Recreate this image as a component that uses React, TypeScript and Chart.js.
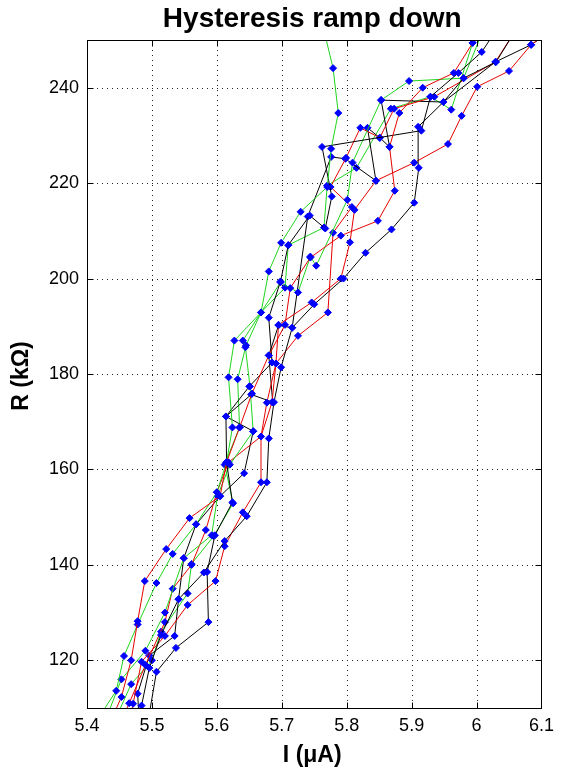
import { useEffect, useRef } from "react";
import { Chart, registerables } from "chart.js";

Chart.register(...registerables);

// Axis settings
const xTicks = [5.4, 5.5, 5.6, 5.7, 5.8, 5.9, 6, 6.1];
const yTicks = [120, 140, 160, 180, 200, 220, 240];
const xMin = 5.4;
const xMax = 6.1;
const yMin = 110;
const yMax = 250;

// Sweep traces: current I (µA) and resistance R (kΩ)
const red1I = [5.439, 5.453, 5.468, 5.478, 5.489, 5.522, 5.558, 5.605, 5.615, 5.635, 5.654, 5.68, 5.705, 5.713, 5.744, 5.791, 5.848, 5.874, 5.866, 5.881, 5.917, 5.965, 5.994, 6.01];
const red1R = [108, 112.3, 120, 128.2, 136.6, 143.3, 149.8, 154.4, 161.5, 168.8, 175.9, 183.9, 190.3, 198, 204.4, 209, 212.1, 218.4, 227.6, 234.7, 240, 243.1, 249.4, 253];

const black1I = [5.484, 5.484, 5.496, 5.514, 5.541, 5.58, 5.612, 5.646, 5.677, 5.68, 5.688, 5.699, 5.716, 5.75, 5.795, 5.829, 5.869, 5.904, 5.911, 5.91, 5.949, 5.98, 6.03, 6.06];
const black1R = [108, 110.5, 118.4, 125.3, 132.8, 138.4, 145, 150.2, 157.3, 166.5, 174.1, 181.4, 189.7, 194.6, 200, 205.4, 210.3, 215.9, 223.2, 231.8, 237, 242, 245.4, 252];

const green1I = [5.418, 5.445, 5.457, 5.478, 5.507, 5.532, 5.568, 5.6, 5.615, 5.624, 5.618, 5.627, 5.668, 5.68, 5.699, 5.729, 5.77, 5.776, 5.787, 5.779, 5.765];
const green1R = [108, 113.6, 120.9, 127.5, 136.2, 142.3, 148.5, 155.2, 161.5, 168.8, 179.3, 187, 192.9, 201.5, 207.5, 214, 219.2, 227.2, 234.7, 244.1, 252];

const red2I = [5.465, 5.471, 5.484, 5.52, 5.555, 5.598, 5.612, 5.64, 5.668, 5.668, 5.685, 5.691, 5.695, 5.746, 5.791, 5.805, 5.812, 5.845, 5.904, 5.956, 5.977, 6.001, 6.05, 6.084, 6.11];
const red2R = [107, 110.9, 119.7, 125.1, 131.6, 136.6, 143.9, 151, 157.3, 166.9, 174.1, 182.2, 190.3, 195, 200, 207.6, 214.4, 220.5, 224.3, 228.2, 234.1, 240.2, 243.5, 249, 251.5];

const black2I = [5.495, 5.507, 5.537, 5.587, 5.585, 5.597, 5.624, 5.615, 5.614, 5.65, 5.685, 5.68, 5.698, 5.71, 5.743, 5.767, 5.777, 5.762, 5.915, 5.929, 5.972, 6.008, 6.03];
const black2R = [108, 117.6, 122.6, 128, 138.5, 146.2, 153.1, 161.5, 171.1, 177.4, 182.4, 191.8, 199.4, 207, 213.2, 210.5, 217.2, 227.6, 231, 238.1, 243.1, 247.5, 252];

const green2I = [5.43, 5.453, 5.49, 5.52, 5.549, 5.592, 5.601, 5.62, 5.656, 5.651, 5.644, 5.64, 5.698, 5.725, 5.744, 5.753, 5.801, 5.809, 5.853, 5.896, 5.98, 6.01];
const green2R = [108, 116, 122, 130, 141.4, 146.2, 154.4, 161, 168, 177.4, 185.6, 187, 199.2, 197.1, 204.6, 202.7, 216.5, 224.3, 237.4, 241.4, 242, 252];

const red3I = [5.455, 5.465, 5.49, 5.52, 5.532, 5.561, 5.583, 5.6, 5.618, 5.668, 5.677, 5.691, 5.725, 5.771, 5.779, 5.808, 5.775, 5.799, 5.821, 5.851, 5.873, 5.935, 6.029, 6.06];
const red3R = [108, 111, 119, 128, 135, 140, 147.3, 155.2, 161.5, 166.9, 174, 182.2, 188, 192.9, 209.6, 215, 219.2, 225.3, 231.6, 229.5, 235.6, 238.1, 245.4, 252];

const black3I = [5.48, 5.478, 5.496, 5.535, 5.541, 5.549, 5.568, 5.605, 5.642, 5.656, 5.614, 5.653, 5.686, 5.68, 5.695, 5.716, 5.74, 5.776, 5.798, 5.845, 5.832, 5.851, 5.866, 5.853, 5.949, 6.029, 6.084, 6.1];
const black3R = [108, 113, 121, 125.1, 132.8, 141.4, 148.5, 154.4, 159.2, 168, 171.1, 175.7, 174.1, 183.9, 190.2, 189.7, 213, 225.5, 225.1, 220.5, 231.6, 229.5, 227.6, 237.4, 237, 245.4, 249, 250.5];

const green3I = [5.445, 5.468, 5.5, 5.514, 5.555, 5.561, 5.595, 5.625, 5.612, 5.635, 5.632, 5.645, 5.668, 5.705, 5.71, 5.765, 5.77, 5.815, 5.868, 5.929, 5.961, 5.994, 6.0];
const green3R = [108, 115, 120, 126, 134, 140.2, 146, 152.9, 161, 168.8, 178.9, 186, 192.9, 198.1, 207, 210.7, 219.5, 223.2, 235.6, 238.1, 235.4, 249.4, 252];

const RED = "#e60000";
const GREEN = "#1fd41f";
const BLACK = "#000000";
const MARKER = "#0000ff";

const traces: [number[], number[], string][] = [
  [red1I, red1R, RED],
  [black1I, black1R, BLACK],
  [green1I, green1R, GREEN],
  [red2I, red2R, RED],
  [black2I, black2R, BLACK],
  [green2I, green2R, GREEN],
  [red3I, red3R, RED],
  [black3I, black3R, BLACK],
  [green3I, green3R, GREEN],
];

const FONT = "'Liberation Sans', Arial, Helvetica, sans-serif";

// Dotted grid, frame with inward tick marks, and the text labels
const framePlugin = {
  id: "frame",
  beforeDraw(chart: any) {
    const { ctx, width, height } = chart;
    ctx.save();
    ctx.fillStyle = "#ffffff";
    ctx.fillRect(0, 0, width, height);
    ctx.restore();
  },
  beforeDatasetsDraw(chart: any) {
    const { ctx, chartArea: a, scales } = chart;
    ctx.save();
    ctx.strokeStyle = "#222";
    ctx.lineWidth = 1;
    ctx.setLineDash([1, 4]);
    for (const v of xTicks) {
      const px = Math.round(scales.x.getPixelForValue(v)) + 0.5;
      if (px <= a.left + 1 || px >= a.right - 1) continue;
      ctx.beginPath();
      ctx.moveTo(px, a.top);
      ctx.lineTo(px, a.bottom);
      ctx.stroke();
    }
    for (const v of yTicks) {
      const py = Math.round(scales.y.getPixelForValue(v)) + 0.5;
      if (py <= a.top + 1 || py >= a.bottom - 1) continue;
      ctx.beginPath();
      ctx.moveTo(a.left, py);
      ctx.lineTo(a.right, py);
      ctx.stroke();
    }
    ctx.restore();
  },
  afterDatasetsDraw(chart: any) {
    const { ctx, chartArea: a, scales } = chart;
    const L = Math.round(a.left) + 0.5;
    const R = Math.round(a.right) + 0.5;
    const T = Math.round(a.top) + 0.5;
    const B = Math.round(a.bottom) + 0.5;
    const tl = 6;
    ctx.save();
    ctx.strokeStyle = "#000";
    ctx.lineWidth = 1;
    ctx.setLineDash([]);
    ctx.strokeRect(L, T, R - L, B - T);
    ctx.beginPath();
    for (const v of xTicks) {
      const px = Math.round(scales.x.getPixelForValue(v)) + 0.5;
      ctx.moveTo(px, B);
      ctx.lineTo(px, B - tl);
      ctx.moveTo(px, T);
      ctx.lineTo(px, T + tl);
    }
    for (const v of yTicks) {
      const py = Math.round(scales.y.getPixelForValue(v)) + 0.5;
      ctx.moveTo(L, py);
      ctx.lineTo(L + tl, py);
      ctx.moveTo(R, py);
      ctx.lineTo(R - tl, py);
    }
    ctx.stroke();

    const cx = (a.left + a.right) / 2;
    ctx.fillStyle = "#000";
    ctx.textAlign = "center";
    ctx.textBaseline = "alphabetic";
    ctx.font = `bold 28px ${FONT}`;
    ctx.fillText("Hysteresis ramp down", cx - 2, 27);

    ctx.font = `bold 23px ${FONT}`;
    ctx.fillText("I (\u03bcA)", cx - 2, 762);

    ctx.translate(28, (a.top + a.bottom) / 2 + 2);
    ctx.rotate(-Math.PI / 2);
    ctx.fillText("R (k\u03a9)", 0, 0);
    ctx.restore();
  },
};

export default function App() {
  const canvasRef = useRef<HTMLCanvasElement | null>(null);

  useEffect(() => {
    const canvas = canvasRef.current;
    if (!canvas) return;

    const datasets = traces.map(([xs, ys, color]) => {
      const n = Math.min(xs.length, ys.length);
      const data = [] as { x: number; y: number }[];
      for (let i = 0; i < n; i++) data.push({ x: xs[i], y: ys[i] });
      return {
        data,
        showLine: true,
        borderColor: color,
        borderWidth: 1,
        pointStyle: "rectRot" as const,
        pointRadius: (c: any) => {
          const p = c.raw as { x: number; y: number } | undefined;
          if (!p) return 3.5;
          return p.y < yMin || p.y > yMax || p.x < xMin || p.x > xMax ? 0 : 3.5;
        },
        pointBackgroundColor: MARKER,
        pointBorderColor: MARKER,
        pointBorderWidth: 1,
        clip: 0,
        tension: 0,
      };
    });

    const chart = new Chart(canvas, {
      type: "scatter",
      data: { datasets },
      options: {
        animation: false,
        responsive: true,
        maintainAspectRatio: false,
        events: [],
        layout: { padding: { top: 40, right: 11, bottom: 0, left: 0 } },
        plugins: {
          legend: { display: false },
          tooltip: { enabled: false },
          title: { display: false },
        },
        scales: {
          x: {
            type: "linear",
            min: xMin,
            max: xMax,
            grid: { display: false, drawTicks: false },
            border: { display: false },
            afterBuildTicks: (s: any) => {
              s.ticks = xTicks.map((v) => ({ value: v }));
            },
            afterFit: (s: any) => {
              s.height = 68;
            },
            ticks: {
              padding: 7,
              color: "#000",
              font: { family: FONT, size: 18 },
              maxRotation: 0,
              autoSkip: false,
              callback: (v: any) => String(Math.round(Number(v) * 10) / 10),
            },
          },
          y: {
            type: "linear",
            min: yMin,
            max: yMax,
            grid: { display: false, drawTicks: false },
            border: { display: false },
            afterBuildTicks: (s: any) => {
              s.ticks = yTicks.map((v) => ({ value: v }));
            },
            afterFit: (s: any) => {
              s.width = 87;
            },
            ticks: {
              padding: 8,
              color: "#000",
              font: { family: FONT, size: 18 },
              autoSkip: false,
              callback: (v: any) => String(v),
            },
          },
        },
      },
      plugins: [framePlugin],
    });

    return () => chart.destroy();
  }, []);

  return (
    <div style={{ position: "fixed", left: 0, top: 0, width: 561, height: 776, background: "#fff" }}>
      <canvas ref={canvasRef} />
    </div>
  );
}
